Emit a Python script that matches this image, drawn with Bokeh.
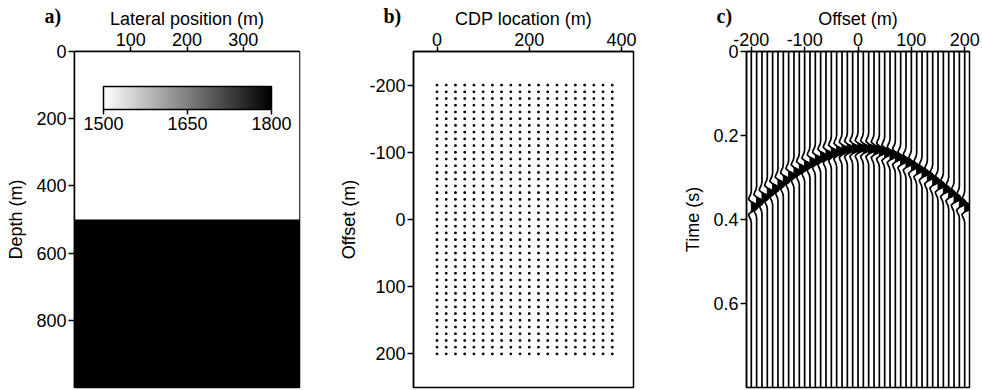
from itertools import product

from bokeh.embed import file_html
from bokeh.layouts import row
from bokeh.models import ColorBar, ColumnDataSource, FixedTicker, LinearColorMapper, Range1d, Title
from bokeh.palettes import Greys256
from bokeh.plotting import figure
from bokeh.resources import INLINE
from bokeh.transform import linear_cmap

# ---- a) two-layer velocity model ----
layer_left = [0, 0]
layer_right = [400, 400]
layer_top = [0, 500]
layer_bottom = [500, 1000]
layer_velocity = [1500, 1800]
velocity_ticks = [1500, 1650, 1800]
depth_ticks = [0, 200, 400, 600, 800]
lateral_ticks = [100, 200, 300]

# ---- b) CDP / offset coverage ----
cdp_locations = [0, 20, 40, 60, 80, 100, 120, 140, 160, 180,
                 200, 220, 240, 260, 280, 300, 320, 340, 360, 380]
offsets = [-200, -190, -180, -170, -160, -150, -140, -130, -120, -110,
           -100, -90, -80, -70, -60, -50, -40, -30, -20, -10, 0,
           10, 20, 30, 40, 50, 60, 70, 80, 90, 100,
           110, 120, 130, 140, 150, 160, 170, 180, 190, 200]
cdp_ticks = [0, 200, 400]
offset_ticks = [-200, -100, 0, 100, 200]

# ---- c) CMP gather: reflection arrival per trace and wavelet ----
trace_offsets = offsets
arrival_times = [0.370, 0.359, 0.348, 0.337, 0.327, 0.317, 0.307, 0.297, 0.288, 0.280,
                 0.272, 0.264, 0.258, 0.251, 0.246, 0.241, 0.237, 0.234, 0.232, 0.231,
                 0.230,
                 0.231, 0.232, 0.234, 0.237, 0.241, 0.246, 0.251, 0.258, 0.264, 0.272,
                 0.280, 0.288, 0.297, 0.307, 0.317, 0.327, 0.337, 0.348, 0.359, 0.370]
wavelet_lag = [-0.038, -0.030, -0.024, -0.018, -0.012, -0.008, -0.004, 0.0,
               0.004, 0.008, 0.012, 0.018, 0.024, 0.030, 0.038]
wavelet_amp = [0.0, -0.10, -0.30, -0.44, 0.0, 0.55, 0.90, 1.0,
               0.90, 0.55, 0.0, -0.44, -0.30, -0.10, 0.0]
time_ticks = [0, 0.2, 0.4, 0.6]
record_length = 0.8
trace_gain = 12.0  # metres of deflection per unit amplitude

FONT = "Liberation Sans"
FS = "18px"
HYPHEN_LABELS = {-200: "-200", -100: "-100"}


def style(p):
    p.grid.visible = False
    p.outline_line_color = "black"
    p.outline_line_width = 1.5
    p.background_fill_color = "white"
    p.border_fill_color = "white"
    for ax in p.axis:
        ax.axis_line_color = "black"
        ax.axis_line_width = 1.5
        ax.major_tick_line_color = "black"
        ax.major_tick_line_width = 1.5
        ax.major_tick_in = 0
        ax.major_tick_out = 6
        ax.minor_tick_line_color = None
        ax.major_label_text_font = FONT
        ax.major_label_text_font_size = FS
        ax.major_label_text_color = "black"
        ax.axis_label_text_font = FONT
        ax.axis_label_text_font_size = FS
        ax.axis_label_text_font_style = "normal"
        ax.axis_label_text_color = "black"
    p.xaxis.major_tick_out = 5
    p.xaxis.major_label_standoff = 1
    p.xaxis.axis_label_standoff = 1
    p.yaxis.major_label_standoff = 2
    p.yaxis.axis_label_standoff = 7


def panel_title(text):
    # zero-height title row that overlays the panel letter beside the axis label
    return Title(text=text, align="left", offset=-30, standoff=-43,
                 text_font="Liberation Serif", text_font_style="bold",
                 text_font_size="20px", text_color="black")


common = dict(height=390, toolbar_location=None, output_backend="svg",
              x_axis_location="above", min_border_top=51, min_border_bottom=3,
              min_border_left=74)

# a) velocity model
grey_ramp = list(reversed(Greys256))  # white (slow) to black (fast)
layers = ColumnDataSource(dict(left=layer_left, right=layer_right, top=layer_top,
                               bottom=layer_bottom, velocity=layer_velocity))
pa = figure(width=336, min_border_right=37, title=panel_title("a)"),
            x_range=Range1d(0, 400), y_range=Range1d(1000, 0), **common)
pa.quad(left="left", right="right", top="top", bottom="bottom",
        fill_color=linear_cmap("velocity", grey_ramp, 1500, 1800), line_color=None,
        source=layers)
pa.xaxis.axis_label = "Lateral position (m)"
pa.yaxis.axis_label = "Depth (m)"
pa.xaxis.ticker = FixedTicker(ticks=lateral_ticks)
pa.yaxis.ticker = FixedTicker(ticks=depth_ticks)
style(pa)
cbar = ColorBar(color_mapper=LinearColorMapper(palette=grey_ramp, low=1500, high=1800),
                orientation="horizontal", ticker=FixedTicker(ticks=velocity_ticks),
                width=168, height=23, location=(29, 255), padding=0,
                bar_line_color="black", bar_line_width=1.5,
                major_tick_in=0, major_tick_out=5, major_tick_line_color="black",
                major_tick_line_width=1.5, minor_tick_line_color=None,
                label_standoff=2,
                major_label_text_font=FONT, major_label_text_font_size=FS,
                major_label_text_color="black",
                background_fill_alpha=0, border_line_color=None)
pa.add_layout(cbar, "center")

# b) coverage chart
grid = list(product(cdp_locations, offsets))
pb = figure(width=336, min_border_right=39, title=panel_title("b)"),
            x_range=Range1d(-51, 426), y_range=Range1d(250, -250), **common)
pb.scatter([g[0] for g in grid], [g[1] for g in grid], marker="square",
           size=1.6, color="black")
pb.xaxis.axis_label = "CDP location (m)"
pb.yaxis.axis_label = "Offset (m)"
pb.xaxis.ticker = FixedTicker(ticks=cdp_ticks)
pb.yaxis.ticker = FixedTicker(ticks=offset_ticks)
pb.yaxis.major_label_overrides = HYPHEN_LABELS
style(pb)

# c) wiggle gather: full trace lines plus the filled positive lobe
lobe = [i for i in range(4, 11)]
xs, ys, fx, fy = [], [], [], []
for off, t in zip(trace_offsets, arrival_times):
    xs.append([off] + [off + trace_gain * a for a in wavelet_amp] + [off])
    ys.append([0.0] + [t + lag for lag in wavelet_lag] + [record_length])
    fx.append([off + trace_gain * wavelet_amp[i] for i in lobe])
    fy.append([t + wavelet_lag[i] for i in lobe])

pc = figure(width=310, min_border_right=13, title=panel_title("c)"),
            x_range=Range1d(-209, 209), y_range=Range1d(record_length, 0), **common)
pc.patches(fx, fy, fill_color="black", line_color="black", line_width=1)
pc.multi_line(xs, ys, line_color="black", line_width=1.7)
pc.xaxis.axis_label = "Offset (m)"
pc.yaxis.axis_label = "Time (s)"
pc.xaxis.ticker = FixedTicker(ticks=offset_ticks)
pc.yaxis.ticker = FixedTicker(ticks=time_ticks)
pc.xaxis.major_label_overrides = HYPHEN_LABELS
pc.yaxis.major_label_overrides = {0: "0", 0.2: "0.2", 0.4: "0.4", 0.6: "0.6"}
style(pc)

layout = row(pa, pb, pc, spacing=0)
open("out.html", "w").write(file_html(layout, INLINE))
